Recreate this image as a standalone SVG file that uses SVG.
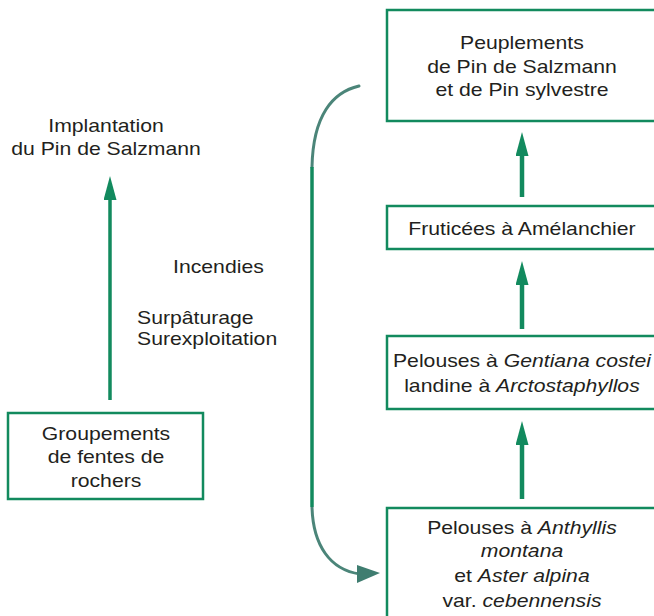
<svg xmlns="http://www.w3.org/2000/svg" width="654" height="616" viewBox="0 0 654 616">
<style>
.box{fill:#fff;stroke:#128a5e;stroke-width:2.5}
.t{font-family:"Liberation Sans",Arial,sans-serif;font-size:18px;fill:#231f20;transform:scale(1.178,1)}
.m{text-anchor:middle}
.i{font-style:italic}
.arr{stroke:#128a5e;fill:none}
</style>
<defs>
<marker id="ah" markerUnits="userSpaceOnUse" markerWidth="24" markerHeight="13" viewBox="0 0 24 13" refX="1" refY="6.5" orient="auto">
<path d="M0,0 L24,6.5 L0,13 z" fill="#128a5e"/>
</marker>
</defs>
<rect width="654" height="616" fill="#fff"/>
<g id="connectors">
<line class="arr" x1="522" y1="197" x2="522" y2="155" stroke-width="4.5" marker-end="url(#ah)"/>
<line class="arr" x1="522" y1="329" x2="522" y2="284" stroke-width="4.5" marker-end="url(#ah)"/>
<line class="arr" x1="522" y1="499" x2="522" y2="444" stroke-width="4.5" marker-end="url(#ah)"/>
<line class="arr" x1="110" y1="400" x2="110" y2="199" stroke-width="3.5" marker-end="url(#ah)"/>
<path d="M359,86 C333,92 313,115 312,167" fill="none" stroke="#4b8579" stroke-width="3" stroke-linecap="round"/>
<line x1="312" y1="167" x2="312" y2="507" stroke="#128a5e" stroke-width="3.5"/>
<path d="M312,507 C313,545 330,570 360,574" fill="none" stroke="#4b8579" stroke-width="3"/>
<path d="M357,565 L380,573 L357,583 z" fill="#3f7d70"/>
</g>
<g id="n-peuplements">
<rect class="box" x="387" y="10" width="280" height="111"/>
<text class="t m" x="443.1" y="49">Peuplements</text>
<text class="t m" x="443.1" y="73">de Pin de Salzmann</text>
<text class="t m" x="443.1" y="96">et de Pin sylvestre</text>
</g>
<g id="n-fruticees">
<rect class="box" x="387" y="206" width="280" height="43"/>
<text class="t m" x="443.1" y="235">Fruticées à Amélanchier</text>
</g>
<g id="n-gentiana">
<rect class="box" x="387" y="336" width="280" height="73"/>
<text class="t m" x="443.1" y="367">Pelouses à <tspan class="i">Gentiana costei</tspan></text>
<text class="t m" x="443.1" y="392">landine à <tspan class="i">Arctostaphyllos</tspan></text>
</g>
<g id="n-anthyllis">
<rect class="box" x="387" y="508" width="280" height="120"/>
<text class="t m" x="443.1" y="534">Pelouses à <tspan class="i">Anthyllis</tspan></text>
<text class="t m i" x="443.1" y="557">montana</text>
<text class="t m" x="443.1" y="582">et <tspan class="i">Aster alpina</tspan></text>
<text class="t m" x="443.1" y="607">var. <tspan class="i">cebennensis</tspan></text>
</g>
<g id="n-groupements">
<rect class="box" x="8" y="413" width="195" height="86"/>
<text class="t m" x="90" y="440">Groupements</text>
<text class="t m" x="90" y="463">de fentes de</text>
<text class="t m" x="90" y="487">rochers</text>
</g>
<g id="n-implantation">
<text class="t m" x="90" y="132">Implantation</text>
<text class="t m" x="90" y="155">du Pin de Salzmann</text>
</g>
<g id="labels">
<text class="t" x="146.9" y="273">Incendies</text>
<text class="t" x="116.3" y="324">Surpâturage</text>
<text class="t" x="116.3" y="345">Surexploitation</text>
</g>
</svg>
